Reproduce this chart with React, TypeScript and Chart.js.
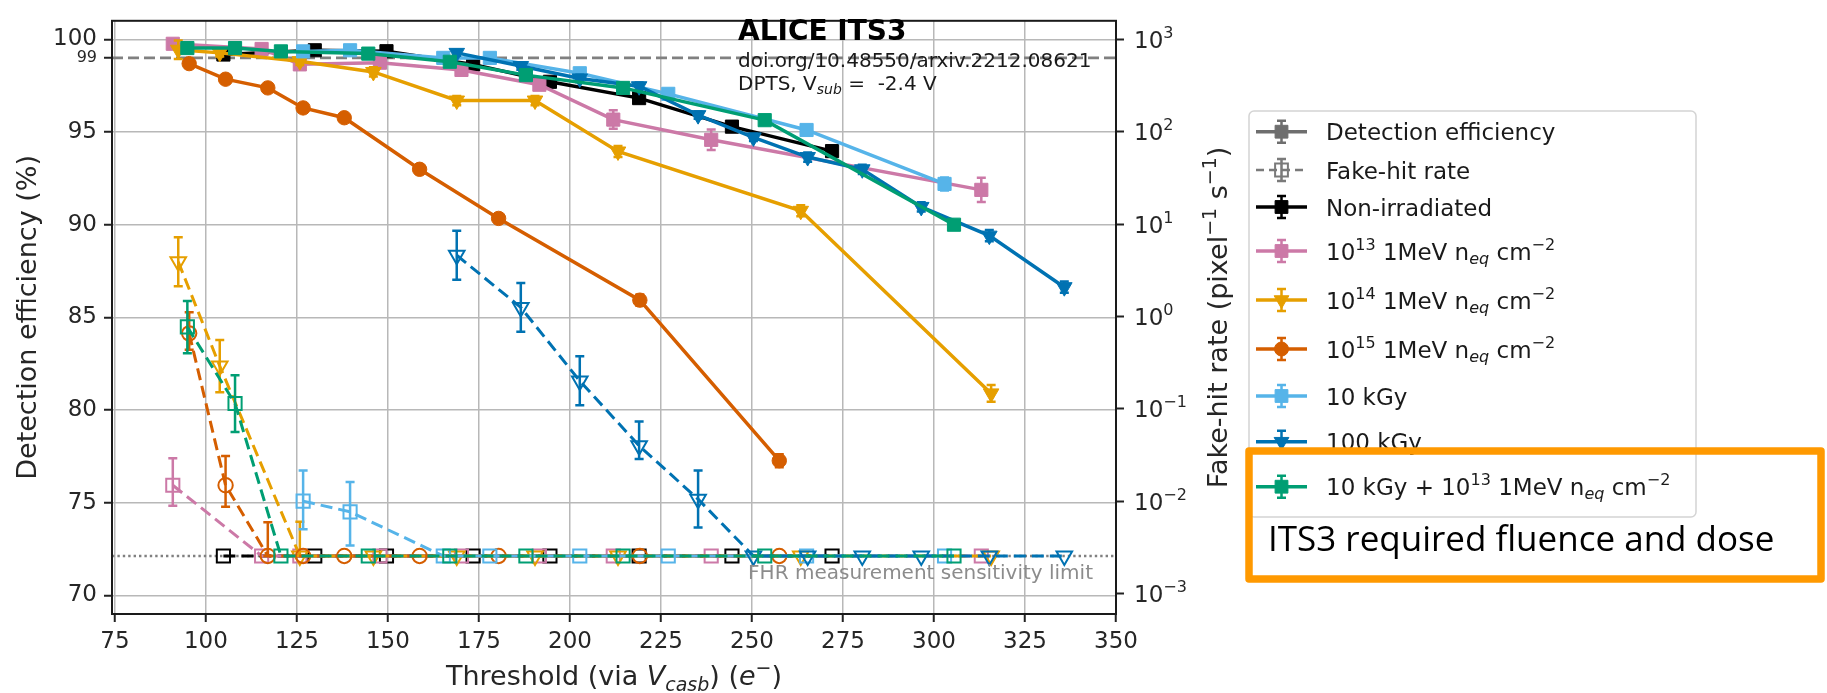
import React, { useEffect, useRef } from "react";
import { Chart, registerables } from "chart.js";

Chart.register(...registerables);

// ---------------- data ----------------
const LIM = 2.55e-3; // FHR measurement sensitivity limit (pixel^-1 s^-1)

const xTicks = [75, 100, 125, 150, 175, 200, 225, 250, 275, 300, 325, 350];
const yTicks = [70, 75, 80, 85, 90, 95, 99, 100];
const y2Exponents = [-3, -2, -1, 0, 1, 2, 3];

// Non-irradiated
const thrNonIrr = [104.8, 129.9, 149.6, 173.4, 194.5, 219.0, 244.5, 272.0];
const effNonIrr = [99.18, 99.41, 99.36, 98.65, 97.71, 96.83, 95.29, 93.97];
const effErrNonIrr = [0.15, 0.15, 0.15, 0.15, 0.2, 0.2, 0.2, 0.2];
const fhrNonIrr = [LIM, LIM, LIM, LIM, LIM, LIM, LIM, LIM];
const fhrLoNonIrr = [null, null, null, null, null, null, null, null];
const fhrHiNonIrr = [null, null, null, null, null, null, null, null];

// 1e13 1MeV neq cm-2
const thrN13 = [90.9, 115.3, 125.8, 147.8, 170.2, 191.6, 211.9, 238.8, 313.0];
const effN13 = [99.76, 99.48, 98.65, 98.74, 98.35, 97.55, 95.67, 94.58, 91.88];
const effErrN13 = [0.2, 0.2, 0.25, 0.2, 0.25, 0.25, 0.5, 0.55, 0.65];
const fhrN13 = [0.01486, LIM, LIM, LIM, LIM, LIM, LIM, LIM, LIM];
const fhrLoN13 = [0.0089, null, null, null, null, null, null, null, null];
const fhrHiN13 = [0.0292, null, null, null, null, null, null, null, null];

// 1e14 1MeV neq cm-2
const thrN14 = [92.4, 103.8, 125.8, 146.0, 168.9, 190.4, 213.2, 263.4, 315.7];
const effN14 = [99.44, 99.27, 98.82, 98.24, 96.7, 96.7, 93.95, 90.75, 80.9];
const effErrN14 = [0.5, 0.2, 0.2, 0.25, 0.25, 0.25, 0.3, 0.3, 0.45];
const fhrN14 = [3.91, 0.29, LIM, LIM, LIM, LIM, LIM, LIM, LIM];
const fhrLoN14 = [2.12, 0.151, LIM, null, null, null, null, null, null];
const fhrHiN14 = [7.21, 0.555, 0.006, null, null, null, null, null, null];

// 1e15 1MeV neq cm-2
const thrN15 = [95.4, 105.4, 117.0, 126.7, 138.0, 158.7, 180.4, 219.2, 257.5];
const effN15 = [98.69, 97.85, 97.38, 96.3, 95.77, 92.99, 90.34, 85.93, 77.27];
const effErrN15 = [0.2, 0.2, 0.2, 0.2, 0.2, 0.25, 0.25, 0.3, 0.35];
const fhrN15 = [0.655, 0.01486, LIM, LIM, LIM, LIM, LIM, LIM, LIM];
const fhrLoN15 = [0.436, 0.0087, LIM, null, null, null, null, null, null];
const fhrHiN15 = [1.11, 0.0309, 0.0059, null, null, null, null, null, null];

// 10 kGy
const thrK10 = [126.7, 139.6, 165.2, 178.0, 202.7, 227.0, 265.0, 302.9];
const effK10 = [99.35, 99.41, 99.0, 99.0, 98.17, 97.06, 95.11, 92.2];
const effErrK10 = [0.15, 0.15, 0.2, 0.2, 0.2, 0.2, 0.25, 0.35];
const fhrK10 = [0.01, 0.00766, LIM, LIM, LIM, LIM, LIM, LIM];
const fhrLoK10 = [0.00497, 0.00331, null, null, null, null, null, null];
const fhrHiK10 = [0.0215, 0.0161, null, null, null, null, null, null];

// 100 kGy
const thrK100 = [168.9, 186.5, 202.7, 219.0, 235.2, 250.4, 265.3, 280.3, 296.5, 315.2, 335.8];
const effK100 = [99.27, 98.56, 97.89, 97.47, 95.91, 94.71, 93.65, 92.99, 90.96, 89.41, 86.63];
const effErrK100 = [0.15, 0.2, 0.2, 0.2, 0.2, 0.2, 0.25, 0.25, 0.25, 0.3, 0.3];
const fhrK100 = [4.59, 1.25, 0.2, 0.0398, 0.0105, LIM, LIM, LIM, LIM, LIM, LIM];
const fhrLoK100 = [2.49, 0.68, 0.109, 0.0286, 0.00518, null, null, null, null, null, null];
const fhrHiK100 = [8.47, 2.3, 0.37, 0.0728, 0.0215, null, null, null, null, null, null];

// 10 kGy + 1e13 1MeV neq cm-2
const thrMix = [94.9, 108.0, 120.6, 144.6, 167.0, 187.9, 214.6, 253.5, 305.5];
const effMix = [99.53, 99.53, 99.35, 99.23, 98.79, 98.07, 97.38, 95.64, 90.0];
const effErrMix = [0.15, 0.15, 0.15, 0.15, 0.2, 0.2, 0.2, 0.25, 0.25];
const fhrMix = [0.769, 0.114, LIM, LIM, LIM, LIM, LIM, LIM, LIM];
const fhrLoMix = [0.4, 0.056, null, null, null, null, null, null, null];
const fhrHiMix = [1.47, 0.23, null, null, null, null, null, null, null];

// ---------------- styling ----------------
const FAM = "'DejaVu Sans', sans-serif";

type Marker = "square" | "circle" | "tri";

const SERIES: {
  color: string;
  marker: Marker;
  thr: number[];
  eff: number[];
  effErr: number[];
  fhr: number[];
  lo: (number | null)[];
  hi: (number | null)[];
}[] = [
  { color: "#000000", marker: "square", thr: thrNonIrr, eff: effNonIrr, effErr: effErrNonIrr, fhr: fhrNonIrr, lo: fhrLoNonIrr, hi: fhrHiNonIrr },
  { color: "#CC79A7", marker: "square", thr: thrN13, eff: effN13, effErr: effErrN13, fhr: fhrN13, lo: fhrLoN13, hi: fhrHiN13 },
  { color: "#E69F00", marker: "tri", thr: thrN14, eff: effN14, effErr: effErrN14, fhr: fhrN14, lo: fhrLoN14, hi: fhrHiN14 },
  { color: "#D55E00", marker: "circle", thr: thrN15, eff: effN15, effErr: effErrN15, fhr: fhrN15, lo: fhrLoN15, hi: fhrHiN15 },
  { color: "#56B4E9", marker: "square", thr: thrK10, eff: effK10, effErr: effErrK10, fhr: fhrK10, lo: fhrLoK10, hi: fhrHiK10 },
  { color: "#0072B2", marker: "tri", thr: thrK100, eff: effK100, effErr: effErrK100, fhr: fhrK100, lo: fhrLoK100, hi: fhrHiK100 },
  { color: "#009E73", marker: "square", thr: thrMix, eff: effMix, effErr: effErrMix, fhr: fhrMix, lo: fhrLoMix, hi: fhrHiMix },
];

type Seg = { t: string; size?: number; italic?: boolean; bold?: boolean; dy?: number; family?: string };

function fontOf(s: Seg, base: number) {
  return `${s.italic ? "italic " : ""}${s.bold ? "bold " : ""}${s.size ?? base}px ${s.family ?? FAM}`;
}

function drawRich(ctx: CanvasRenderingContext2D, segs: Seg[], x: number, y: number, align: "left" | "center" | "right", base: number, color: string) {
  ctx.save();
  ctx.fillStyle = color;
  ctx.textBaseline = "alphabetic";
  ctx.textAlign = "left";
  let w = 0;
  for (const s of segs) {
    ctx.font = fontOf(s, base);
    w += ctx.measureText(s.t).width;
  }
  let cx = align === "left" ? x : align === "center" ? x - w / 2 : x - w;
  for (const s of segs) {
    ctx.font = fontOf(s, base);
    ctx.fillText(s.t, cx, y + (s.dy ?? 0));
    cx += ctx.measureText(s.t).width;
  }
  ctx.restore();
}

function drawMarker(ctx: CanvasRenderingContext2D, m: Marker, x: number, y: number, color: string, filled: boolean) {
  ctx.save();
  ctx.setLineDash([]);
  ctx.strokeStyle = color;
  ctx.fillStyle = color;
  ctx.lineWidth = filled ? 1 : 2;
  ctx.beginPath();
  if (m === "square") {
    const h = 6.4;
    ctx.rect(x - h, y - h, 2 * h, 2 * h);
  } else if (m === "circle") {
    ctx.arc(x, y, 7, 0, Math.PI * 2);
  } else {
    const r = 8.5;
    ctx.moveTo(x, y + r);
    ctx.lineTo(x - 0.866 * r, y - 0.5 * r);
    ctx.lineTo(x + 0.866 * r, y - 0.5 * r);
    ctx.closePath();
  }
  if (filled) ctx.fill();
  ctx.stroke();
  ctx.restore();
}

const sup = (t: string, size = 16, dy = -10): Seg => ({ t, size, dy });
const sub = (t: string, size = 16, dy = 4): Seg => ({ t, size, dy, italic: true });

const LEGEND_ROWS: { segs: Seg[]; color: string; marker: Marker; dashed: boolean; filled: boolean; y: number }[] = [
  { segs: [{ t: "Detection efficiency" }], color: "#6e6e6e", marker: "square", dashed: false, filled: true, y: 131.7 },
  { segs: [{ t: "Fake-hit rate" }], color: "#7a7a7a", marker: "square", dashed: true, filled: false, y: 170 },
  { segs: [{ t: "Non-irradiated" }], color: "#000000", marker: "square", dashed: false, filled: true, y: 207 },
  { segs: [{ t: "10" }, sup("13"), { t: " 1MeV n" }, sub("eq"), { t: " cm" }, sup("\u22122")], color: "#CC79A7", marker: "square", dashed: false, filled: true, y: 251 },
  { segs: [{ t: "10" }, sup("14"), { t: " 1MeV n" }, sub("eq"), { t: " cm" }, sup("\u22122")], color: "#E69F00", marker: "tri", dashed: false, filled: true, y: 300 },
  { segs: [{ t: "10" }, sup("15"), { t: " 1MeV n" }, sub("eq"), { t: " cm" }, sup("\u22122")], color: "#D55E00", marker: "circle", dashed: false, filled: true, y: 349 },
  { segs: [{ t: "10 kGy" }], color: "#56B4E9", marker: "square", dashed: false, filled: true, y: 396 },
  { segs: [{ t: "100 kGy" }], color: "#0072B2", marker: "tri", dashed: false, filled: true, y: 441.7 },
  { segs: [{ t: "10 kGy + 10" }, sup("13"), { t: " 1MeV n" }, sub("eq"), { t: " cm" }, sup("\u22122")], color: "#009E73", marker: "square", dashed: false, filled: true, y: 486.7 },
];

// ---------------- plugins ----------------
const errorBarPlugin = {
  id: "errbars",
  beforeDatasetDraw(chart: any, args: any) {
    const ds = chart.data.datasets[args.index];
    const eb = ds.errBars as ([number, number] | null)[] | undefined;
    if (!eb) return;
    const yScale = chart.scales[ds.yAxisID];
    const ctx: CanvasRenderingContext2D = chart.ctx;
    ctx.save();
    ctx.strokeStyle = ds.borderColor;
    ctx.lineWidth = 2.5;
    ctx.setLineDash([]);
    args.meta.data.forEach((pt: any, i: number) => {
      const e = eb[i];
      if (!e) return;
      const y1 = yScale.getPixelForValue(e[0]);
      const y2 = yScale.getPixelForValue(e[1]);
      const x = pt.x;
      ctx.beginPath();
      ctx.moveTo(x, y1);
      ctx.lineTo(x, y2);
      ctx.moveTo(x - 4.5, y1);
      ctx.lineTo(x + 4.5, y1);
      ctx.moveTo(x - 4.5, y2);
      ctx.lineTo(x + 4.5, y2);
      ctx.stroke();
    });
    ctx.restore();
  },
};

const refLinesPlugin = {
  id: "reflines",
  beforeDatasetsDraw(chart: any) {
    const ctx: CanvasRenderingContext2D = chart.ctx;
    const a = chart.chartArea;
    const y99 = chart.scales.y.getPixelForValue(99);
    const yLim = chart.scales.y2.getPixelForValue(LIM);
    ctx.save();
    ctx.strokeStyle = "#808080";
    ctx.lineWidth = 2.6;
    ctx.setLineDash([11, 5]);
    ctx.beginPath();
    ctx.moveTo(a.left, y99);
    ctx.lineTo(a.right, y99);
    ctx.stroke();
    ctx.strokeStyle = "#808080";
    ctx.lineWidth = 2.4;
    ctx.setLineDash([2.4, 3]);
    ctx.beginPath();
    ctx.moveTo(a.left, yLim);
    ctx.lineTo(a.right, yLim);
    ctx.stroke();
    ctx.restore();
  },
  afterDatasetsDraw(chart: any) {
    const ctx: CanvasRenderingContext2D = chart.ctx;
    const yLim = chart.scales.y2.getPixelForValue(LIM);
    drawRich(ctx, [{ t: "FHR measurement sensitivity limit" }], 1093, yLim + 23, "right", 20, "#8c8c8c");
  },
};

const decorPlugin = {
  id: "decor",
  afterDraw(chart: any) {
    const ctx: CanvasRenderingContext2D = chart.ctx;
    const a = chart.chartArea;

    // spines
    ctx.save();
    ctx.strokeStyle = "#1a1a1a";
    ctx.lineWidth = 2;
    ctx.setLineDash([]);
    ctx.strokeRect(a.left, a.top, a.right - a.left, a.bottom - a.top);
    ctx.restore();

    // annotation
    drawRich(ctx, [{ t: "ALICE ITS3", bold: true }], 738, 40, "left", 28, "#000");
    drawRich(ctx, [{ t: "doi.org/10.48550/arxiv.2212.08621" }], 738, 67, "left", 20, "#1a1a1a");
    drawRich(ctx, [{ t: "DPTS, V" }, { t: "sub", italic: true, size: 14, dy: 4 }, { t: " =  -2.4 V" }], 738, 90, "left", 20, "#1a1a1a");

    // right axis tick labels (10^n)
    const y2 = chart.scales.y2;
    for (const e of y2Exponents) {
      const py = y2.getPixelForValue(Math.pow(10, e));
      const es = e < 0 ? "\u2212" + Math.abs(e) : String(e);
      drawRich(ctx, [{ t: "10" }, sup(es, 16, -10)], 1134, py + 8.5, "left", 23, "#262626");
    }

    // axis titles
    drawRich(
      ctx,
      [{ t: "Threshold (via " }, { t: "V", italic: true }, { t: "casb", italic: true, size: 19, dy: 6 }, { t: ") (" }, { t: "e", italic: true }, { t: "\u2212", size: 19, dy: -11 }, { t: ")" }],
      (a.left + a.right) / 2,
      685,
      "center",
      27,
      "#262626"
    );
    ctx.save();
    ctx.translate(36, (a.top + a.bottom) / 2);
    ctx.rotate(-Math.PI / 2);
    drawRich(ctx, [{ t: "Detection efficiency (%)" }], 0, 0, "center", 27, "#262626");
    ctx.restore();
    ctx.save();
    ctx.translate(1227, (a.top + a.bottom) / 2);
    ctx.rotate(-Math.PI / 2);
    drawRich(ctx, [{ t: "Fake-hit rate (pixel" }, sup("\u22121", 19, -11), { t: " s" }, sup("\u22121", 19, -11), { t: ")" }], 0, 0, "center", 27, "#262626");
    ctx.restore();

    // legend
    ctx.save();
    ctx.beginPath();
    const lx = 1249, ly = 111, lw = 447, lh = 406, r = 5;
    ctx.moveTo(lx + r, ly);
    ctx.arcTo(lx + lw, ly, lx + lw, ly + lh, r);
    ctx.arcTo(lx + lw, ly + lh, lx, ly + lh, r);
    ctx.arcTo(lx, ly + lh, lx, ly, r);
    ctx.arcTo(lx, ly, lx + lw, ly, r);
    ctx.closePath();
    ctx.fillStyle = "rgba(255,255,255,0.85)";
    ctx.fill();
    ctx.strokeStyle = "#d4d4d4";
    ctx.lineWidth = 1.5;
    ctx.stroke();
    ctx.restore();

    for (const row of LEGEND_ROWS) {
      ctx.save();
      ctx.strokeStyle = row.color;
      ctx.lineWidth = row.dashed ? 2.6 : 3.5;
      ctx.setLineDash(row.dashed ? [8, 5] : []);
      ctx.beginPath();
      ctx.moveTo(1256, row.y);
      ctx.lineTo(1307, row.y);
      ctx.stroke();
      ctx.setLineDash([]);
      ctx.lineWidth = 2.5;
      ctx.beginPath();
      ctx.moveTo(1281.5, row.y - 11);
      ctx.lineTo(1281.5, row.y + 11);
      ctx.moveTo(1277, row.y - 11);
      ctx.lineTo(1286, row.y - 11);
      ctx.moveTo(1277, row.y + 11);
      ctx.lineTo(1286, row.y + 11);
      ctx.stroke();
      ctx.restore();
      drawMarker(ctx, row.marker, 1281.5, row.y, row.color, row.filled);
      drawRich(ctx, row.segs, 1326, row.y + 8.5, "left", 23, "#1a1a1a");
    }

    // orange highlight box
    ctx.save();
    ctx.strokeStyle = "#FF9900";
    ctx.lineWidth = 7.5;
    ctx.lineJoin = "round";
    ctx.setLineDash([]);
    ctx.strokeRect(1249, 451, 572, 128);
    ctx.restore();
    drawRich(ctx, [{ t: "ITS3 required fluence and dose", family: "'Open Sans', sans-serif" }], 1268, 551, "left", 35, "#000");
  },
};

// ---------------- chart ----------------
function pointStyleOf(m: Marker) {
  return m === "square" ? "rect" : m === "circle" ? "circle" : "triangle";
}
function radiusOf(m: Marker) {
  return m === "square" ? 9.3 : m === "circle" ? 7.2 : 9;
}

function buildDatasets() {
  const out: any[] = [];
  SERIES.forEach((s, si) => {
    const common = {
      xAxisID: "x",
      borderColor: s.color,
      backgroundColor: s.color,
      tension: 0,
      fill: false,
      pointStyle: pointStyleOf(s.marker),
      pointRadius: radiusOf(s.marker),
      pointRotation: s.marker === "tri" ? 180 : 0,
      pointBorderColor: s.color,
    };
    out.push({
      ...common,
      label: "eff" + si,
      yAxisID: "y",
      data: s.thr.map((x, i) => ({ x, y: s.eff[i] })),
      borderWidth: 3.5,
      pointBackgroundColor: s.color,
      pointBorderWidth: 1,
      errBars: s.eff.map((v, i) => [v - s.effErr[i], v + s.effErr[i]]),
      order: 100 - si * 2,
    });
    out.push({
      ...common,
      label: "fhr" + si,
      yAxisID: "y2",
      data: s.thr.map((x, i) => ({ x, y: s.fhr[i] })),
      borderWidth: 3,
      borderDash: [12, 6],
      pointBackgroundColor: "rgba(0,0,0,0)",
      pointBorderWidth: 2,
      errBars: s.fhr.map((v, i) => (s.lo[i] != null && s.hi[i] != null ? [s.lo[i], s.hi[i]] : null)),
      order: 100 - si * 2 - 1,
    });
  });
  return out;
}

export default function App() {
  const ref = useRef<HTMLCanvasElement>(null);
  useEffect(() => {
    const tickFont = { family: FAM, size: 23 };
    const chart = new Chart(ref.current!, {
      type: "line",
      data: { datasets: buildDatasets() },
      options: {
        responsive: false,
        animation: false,
        devicePixelRatio: 1,
        events: [],
        layout: { padding: { top: 10, left: 0, right: 0, bottom: 0 } },
        plugins: { legend: { display: false }, tooltip: { enabled: false }, title: { display: false } },
        scales: {
          x: {
            type: "linear",
            position: "bottom",
            min: 74.2,
            max: 350,
            afterBuildTicks: (s: any) => {
              s.ticks = xTicks.map((v) => ({ value: v }));
            },
            afterFit: (s: any) => {
              s.height = 79;
            },
            ticks: { font: tickFont, color: "#262626", padding: 6, maxRotation: 0, autoSkip: false },
            grid: { color: "#b8b8b8", lineWidth: 1.5, tickLength: 8, tickColor: "#222", tickWidth: 2 },
            border: { display: false },
          },
          y: {
            type: "linear",
            position: "left",
            min: 69,
            max: 101,
            afterBuildTicks: (s: any) => {
              s.ticks = yTicks.map((v) => ({ value: v }));
            },
            afterFit: (s: any) => {
              s.width = 112;
            },
            ticks: {
              font: (c: any) => ({ family: FAM, size: c.tick && c.tick.value === 99 ? 16 : 23 }),
              color: "#262626",
              padding: 7,
              autoSkip: false,
              callback: (v: any) => String(v),
            },
            grid: {
              color: (c: any) => (c.tick && c.tick.value === 99 ? "rgba(0,0,0,0)" : "#b8b8b8"),
              lineWidth: 1.5,
              tickLength: 8,
              tickColor: "#222",
              tickWidth: 2,
            },
            border: { display: false },
          },
          y2: {
            type: "logarithmic",
            position: "right",
            min: Math.pow(10, -3.2),
            max: Math.pow(10, 3.2),
            afterBuildTicks: (s: any) => {
              s.ticks = y2Exponents.map((e) => ({ value: Math.pow(10, e) }));
            },
            afterFit: (s: any) => {
              s.width = 1827 - 1116;
            },
            ticks: { color: "rgba(0,0,0,0)", font: tickFont, autoSkip: false, callback: () => "" },
            grid: { drawOnChartArea: false, tickLength: 8, tickColor: "#222", tickWidth: 2 },
            border: { display: false },
          },
        },
      } as any,
      plugins: [errorBarPlugin, refLinesPlugin, decorPlugin],
    });
    return () => chart.destroy();
  }, []);
  return (
    <div style={{ position: "absolute", left: 0, top: 0, width: 1827, height: 693, background: "#fff" }}>
      <canvas ref={ref} width={1827} height={693} style={{ display: "block", width: 1827, height: 693 }} />
    </div>
  );
}
